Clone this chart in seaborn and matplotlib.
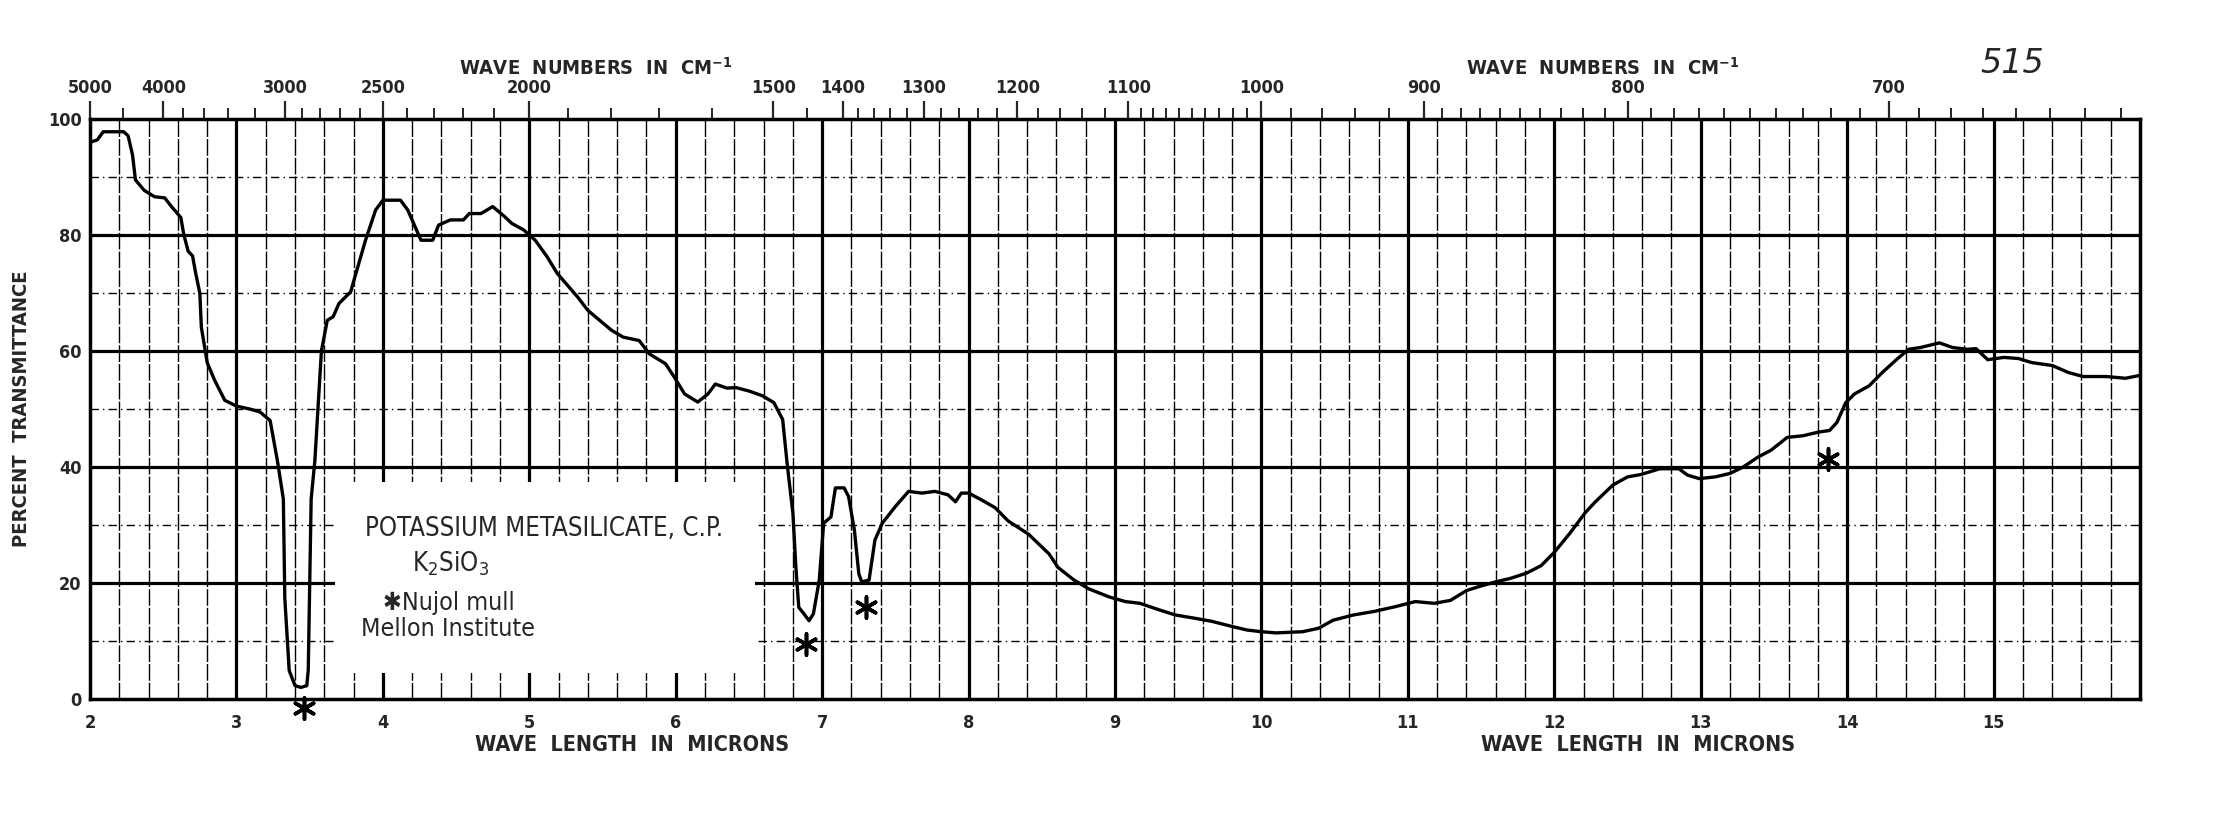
import numpy as np
import pandas as pd
import seaborn as sns
import matplotlib.pyplot as plt
from matplotlib.patches import Rectangle
from matplotlib.transforms import blended_transform_factory

# 1. Spectrum (wave length in microns, percent transmittance)
wavelength = [2.00, 2.05, 2.09, 2.16, 2.23, 2.26, 2.29, 2.31, 2.37, 2.44, 2.51, 2.55,
              2.62, 2.64, 2.67, 2.70, 2.72, 2.75, 2.76, 2.80, 2.85, 2.92, 3.00, 3.09,
              3.16, 3.23, 3.28, 3.32, 3.33, 3.36, 3.40, 3.44, 3.48, 3.49, 3.51, 3.535,
              3.58, 3.62, 3.66, 3.70, 3.78, 3.80, 3.88, 3.95, 4.00, 4.12, 4.17, 4.22,
              4.26, 4.34, 4.38, 4.46, 4.55, 4.59, 4.67, 4.75, 4.83, 4.88, 4.96, 5.04,
              5.12, 5.19, 5.33, 5.40, 5.56, 5.64, 5.75, 5.82, 5.93, 5.99, 6.06, 6.15,
              6.22, 6.27, 6.35, 6.41, 6.50, 6.59, 6.67, 6.73, 6.76, 6.80, 6.82, 6.84,
              6.875, 6.91, 6.94, 6.98, 7.01, 7.06, 7.09, 7.15, 7.18, 7.22, 7.25, 7.27,
              7.32, 7.36, 7.41, 7.50, 7.59, 7.68, 7.77, 7.86, 7.91, 7.95, 8.00, 8.09,
              8.18, 8.27, 8.41, 8.55, 8.61, 8.72, 8.82, 8.96, 9.07, 9.17, 9.31, 9.41,
              9.55, 9.66, 9.80, 9.90, 10.00, 10.10, 10.28, 10.39, 10.49, 10.63, 10.77,
              10.91, 11.05, 11.18, 11.29, 11.40, 11.50, 11.60, 11.70, 11.81, 11.91,
              12.00, 12.11, 12.21, 12.28, 12.40, 12.50, 12.59, 12.72, 12.85, 12.91,
              12.99, 13.10, 13.20, 13.29, 13.39, 13.48, 13.59, 13.70, 13.80, 13.88,
              13.93, 13.99, 14.05, 14.15, 14.24, 14.34, 14.42, 14.50, 14.63, 14.72,
              14.82, 14.88, 14.96, 15.07, 15.17, 15.26, 15.40, 15.51, 15.61, 15.77,
              15.90, 16.00]
transmittance = [96.0, 96.4, 97.8, 97.8, 97.8, 97.1, 93.8, 89.5, 87.7, 86.6, 86.4, 85.1,
                 83.0, 80.1, 77.2, 76.4, 73.6, 69.9, 64.1, 58.0, 55.0, 51.5, 50.5, 50.0,
                 49.5, 48.0, 41.0, 34.5, 17.4, 4.9, 2.3, 2.0, 2.3, 4.9, 34.5, 41.0,
                 60.0, 65.3, 65.9, 68.2, 70.2, 72.0, 79.0, 84.3, 86.0, 86.0, 84.3, 81.4,
                 79.1, 79.1, 81.7, 82.6, 82.6, 83.7, 83.7, 84.9, 83.2, 82.0, 80.9, 79.1,
                 76.3, 73.4, 69.3, 67.0, 63.6, 62.4, 61.8, 59.5, 57.8, 55.5, 52.6, 51.2,
                 52.6, 54.3, 53.6, 53.7, 53.1, 52.3, 51.1, 48.2, 40.7, 32.0, 22.8, 15.8,
                 14.7, 13.5, 14.7, 20.5, 30.3, 31.4, 36.4, 36.4, 34.9, 29.1, 21.6, 20.2,
                 20.5, 27.4, 30.3, 33.2, 35.8, 35.5, 35.8, 35.2, 34.0, 35.5, 35.5, 34.3,
                 33.0, 30.7, 28.4, 25.0, 22.7, 20.5, 19.0, 17.6, 16.8, 16.5, 15.3, 14.5,
                 13.9, 13.4, 12.5, 11.9, 11.6, 11.4, 11.6, 12.2, 13.6, 14.5, 15.1,
                 15.9, 16.8, 16.5, 17.0, 18.7, 19.5, 20.2, 20.8, 21.7, 23.0,
                 25.3, 28.7, 32.1, 34.0, 36.9, 38.3, 38.7, 39.7, 39.7, 38.6,
                 38.0, 38.3, 38.9, 40.0, 41.7, 42.9, 45.1, 45.4, 46.0, 46.3,
                 47.7, 51.1, 52.6, 54.0, 56.3, 58.6, 60.3, 60.6, 61.4, 60.6,
                 60.3, 60.4, 58.5, 58.9, 58.7, 58.0, 57.5, 56.3, 55.6, 55.6,
                 55.3, 55.8]

# Nujol bands marked with asterisks
nujol_wavelength = [3.46, 6.89, 7.30, 13.87]
nujol_transmittance = [-1.5, 9.5, 15.8, 41.3]

# Axis labels
micron_ticks = list(range(2, 16))
wavenumber_major = [5000, 4000, 3000, 2500, 2000, 1500, 1400, 1300, 1200,
                    1100, 1000, 900, 800, 700]
wavenumber_minor = ([4500, 3800, 3600, 3400, 3200, 2900, 2800, 2700, 2600, 2400,
                     2300, 2200, 2100, 1900, 1800, 1700, 1600, 1450]
                    + list(range(1380, 1100, -20)) + list(range(1090, 1000, -10))
                    + list(range(980, 900, -20)) + list(range(890, 800, -10))
                    + list(range(790, 700, -10)) + list(range(690, 620, -10)))
percent_ticks = [0, 20, 40, 60, 80, 100]

spectrum = pd.DataFrame({'wavelength': wavelength, 'transmittance': transmittance})
nujol = pd.DataFrame({'wavelength': nujol_wavelength, 'transmittance': nujol_transmittance})

# 2. Style
sns.set_style('white')
plt.rcParams['font.family'] = ['DejaVu Sans']
plt.rcParams['font.stretch'] = 'condensed'
plt.rcParams['mathtext.fontset'] = 'dejavusans'
plt.rcParams['mathtext.default'] = 'regular'

fig = plt.figure(figsize=(22.29, 8.19), dpi=100)
ax = fig.add_axes([0.0404, 0.1465, 0.9197, 0.7082])
ax.set_xlim(2, 16)
ax.set_ylim(0, 100)

# chart paper grid
for x in np.arange(2.2, 16, 0.2):
    if abs(x - round(x)) < 1e-6:
        continue
    ax.axvline(x, color='black', lw=1.0, ls=(0, (12, 1.5)), zorder=1)
for x in range(3, 16):
    ax.axvline(x, color='black', lw=2.3, zorder=1)
for y in [10, 30, 50, 70, 90]:
    ax.axhline(y, color='black', lw=1.0, ls=(0, (6, 3, 1, 3)), zorder=1)
for y in [20, 40, 60, 80]:
    ax.axhline(y, color='black', lw=2.3, zorder=1)

# label box
ax.add_patch(Rectangle((3.67, 4.5), 6.54 - 3.67, 37.5 - 4.5,
                       facecolor='white', edgecolor='none', zorder=2))
ax.text(3.88, 29.3, 'POTASSIUM METASILICATE, C.P.', fontsize=18.5, va='center', zorder=4)
ax.text(4.2, 23.4, r'K$_2$SiO$_3$', fontsize=18.5, va='center', zorder=4)
ax.text(4.0, 16.5, '\u2731Nujol mull', fontsize=18, va='center', zorder=4)
ax.text(3.85, 12.0, 'Mellon Institute', fontsize=18, va='center', zorder=4)

# 3. Spectrum
sns.lineplot(data=spectrum, x='wavelength', y='transmittance', sort=False,
             color='black', lw=2.4, ax=ax, zorder=5)
sns.scatterplot(data=nujol, x='wavelength', y='transmittance', marker=(6, 2, 0),
                s=230, color='black', linewidth=2.6, ax=ax, zorder=6, clip_on=False)

# 4. Axes
for side in ['left', 'right', 'top', 'bottom']:
    ax.spines[side].set_linewidth(2.5)
    ax.spines[side].set_color('black')

ax.set_xticks(micron_ticks)
ax.set_xticklabels([str(t) for t in micron_ticks])
ax.set_yticks(percent_ticks)
ax.tick_params(axis='x', length=0, pad=11, labelsize=13)
ax.tick_params(axis='y', length=0, pad=6, labelsize=13)
for lab in ax.get_xticklabels() + ax.get_yticklabels():
    lab.set_fontweight('bold')
ax.set_xlabel('')
ax.set_ylabel('PERCENT  TRANSMITTANCE', fontsize=14.5, fontweight='bold', labelpad=12)


def to_wavenumber(x):
    x = np.asarray(x, dtype=float)
    with np.errstate(divide='ignore'):
        return 1e4 / x


top = ax.secondary_xaxis('top', functions=(to_wavenumber, to_wavenumber))
top.set_xticks(wavenumber_major)
top.set_xticklabels([str(w) for w in wavenumber_major])
top.set_xticks(wavenumber_minor, minor=True)
top.tick_params(axis='x', which='major', direction='out', length=13, width=1.6,
                pad=3, labelsize=13)
top.tick_params(axis='x', which='minor', direction='out', length=8, width=1.4)
for lab in top.get_xticklabels():
    lab.set_fontweight('bold')
top.spines['top'].set_visible(False)

trans = blended_transform_factory(ax.transData, ax.transAxes)
for xc in [5.45, 12.33]:
    ax.text(xc, 1.088, 'WAVE  NUMBERS  IN  CM$^{-1}$', transform=trans, ha='center',
            va='center', fontsize=14.5, fontweight='bold')
for xc in [5.70, 12.57]:
    ax.text(xc, -0.08, 'WAVE  LENGTH  IN  MICRONS', transform=trans, ha='center',
            va='center', fontsize=15.5, fontweight='bold')
ax.text(15.13, 1.095, '515', transform=trans, ha='center', va='center', fontsize=24,
        style='italic', fontweight='light', fontstretch='normal')

plt.savefig('out.png', dpi=100, facecolor='white')
